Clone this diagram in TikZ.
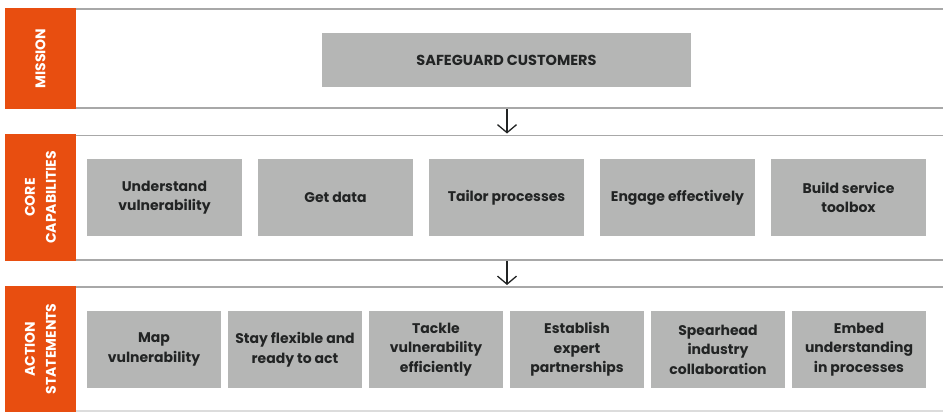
\documentclass[tikz,border=0pt]{standalone}
\usepackage{fontspec}
\setmainfont{Poppins}[BoldFont={Poppins Bold}]
\usetikzlibrary{arrows.meta}

\definecolor{tabOrange}{HTML}{E84E10}
\definecolor{boxGray}{HTML}{B5B6B5}
\definecolor{ruleGray}{HTML}{A8A8A8}
\definecolor{inkDark}{HTML}{222424}

\tikzset{
  tab/.style={fill=tabOrange, text=white, inner sep=0pt, rotate=90,
    font=\fontsize{14}{21}\selectfont\bfseries, align=center},
  capbox/.style={fill=boxGray, text=inkDark, inner sep=0pt, align=center,
    font=\fontsize{14}{19.5}\selectfont\bfseries},
  rule/.style={draw=ruleGray, line width=1.4pt},
  flow/.style={draw=inkDark, line width=1.3pt, -{Straight Barb[length=8pt,width=19pt,line width=1.3pt]}}
}

\begin{document}
\begin{tikzpicture}[x=1pt,y=-1pt]
\useasboundingbox (0,0) rectangle (943,412);

% bands
\draw[rule] (76,9) -- (943,9);
\draw[rule] (76,108) -- (943,108);
\draw[rule] (76,135.5) -- (943,135.5);
\draw[rule] (76,260) -- (943,260);
\draw[rule] (76,287) -- (943,287);
\draw[draw=ruleGray!40, line width=1.2pt] (76,411) -- (943,411);

% side tabs (rotated, so width and height swap)
\node[tab, minimum width=101pt, minimum height=71pt] (mission) at (40.5,58.5) {MISSION};
\node[tab, minimum width=127pt, minimum height=71pt] (core) at (40.5,197.5) {CORE\\CAPABILITIES};
\node[tab, minimum width=126pt, minimum height=71pt] (action) at (40.5,349) {ACTION\\STATEMENTS};

% mission
\node[capbox, minimum width=369pt, minimum height=54pt, font=\fontsize{14.5}{19.5}\selectfont\bfseries] (safe) at (506.5,60) {SAFEGUARD CUSTOMERS};

% core capabilities
\node[capbox, minimum width=155pt, minimum height=77pt] (cap1) at (164.5,197.5) {Understand\\vulnerability};
\node[capbox, minimum width=155pt, minimum height=77pt] (cap2) at (335.5,197.5) {Get data};
\node[capbox, minimum width=155pt, minimum height=77pt] (cap3) at (506.5,197.5) {Tailor processes};
\node[capbox, minimum width=155pt, minimum height=77pt] (cap4) at (677.5,197.5) {Engage effectively};
\node[capbox, minimum width=155pt, minimum height=77pt] (cap5) at (848.5,197.5) {Build service\\toolbox};

% action statements
\node[capbox, minimum width=134pt, minimum height=77pt] (act1) at (154,349.5) {Map\\vulnerability};
\node[capbox, minimum width=134pt, minimum height=77pt] (act2) at (295,349.5) {Stay flexible and\\ready to act};
\node[capbox, minimum width=134pt, minimum height=77pt] (act3) at (436,349.5) {Tackle\\vulnerability\\efficiently};
\node[capbox, minimum width=134pt, minimum height=77pt] (act4) at (577,349.5) {Establish\\expert\\partnerships};
\node[capbox, minimum width=134pt, minimum height=77pt] (act5) at (718,349.5) {Spearhead\\industry\\collaboration};
\node[capbox, minimum width=134pt, minimum height=77pt] (act6) at (859,349.5) {Embed\\understanding\\in processes};

% arrows between bands
\coordinate (mBot) at (507,109);
\coordinate (cTop) at (507,133.5);
\coordinate (cBot) at (507,261);
\coordinate (aTop) at (507,285);
\draw[flow] (mBot) -- (cTop);
\draw[flow] (cBot) -- (aTop);

\end{tikzpicture}
\end{document}
